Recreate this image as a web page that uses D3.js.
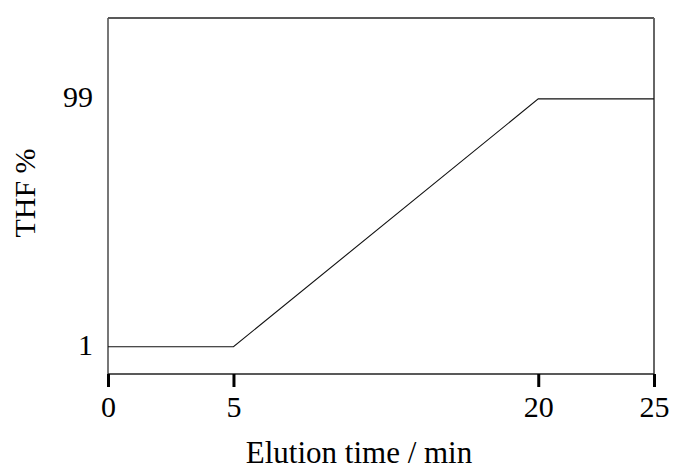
<!DOCTYPE html>
<html>
<head>
<meta charset="utf-8">
<script src="https://cdn.jsdelivr.net/npm/d3@7"></script>
<style>
  body { margin: 0; background: #fff; }
  text { font-family: "Liberation Serif", "Times New Roman", serif; fill: #000; }
</style>
</head>
<body>
<svg id="chart" width="676" height="471"></svg>
<script>
// gradient program: time (min) vs THF %
var times = [0, 5, 20, 25];
var thf = [1, 1, 99, 99];
var xTicks = [0, 5, 20, 25];
var yTicks = [1, 99];

var svg = d3.select('#chart');

var plotL = 108, plotR = 654, plotT = 18, plotB = 374;
var plotW = plotR - plotL;

// the original axis is drawn by hand, tick spacing is not even
var x = d3.scaleLinear()
  .domain(xTicks)
  .range([0, 0.2298, 0.788, 1].map(function (f) { return plotL + f * plotW; }));

var y = d3.scaleLinear()
  .domain([-9.8, 131])
  .range([plotB, plotT]);

// frame: top and right
svg.append('line')
  .attr('x1', plotL).attr('x2', plotR)
  .attr('y1', plotT).attr('y2', plotT)
  .attr('stroke', '#222').attr('stroke-width', 1.4);
svg.append('line')
  .attr('x1', plotR).attr('x2', plotR)
  .attr('y1', plotT).attr('y2', plotB)
  .attr('stroke', '#666').attr('stroke-width', 2);

// left axis, labels only (no tick marks)
svg.append('line')
  .attr('x1', plotL).attr('x2', plotL)
  .attr('y1', plotT).attr('y2', plotB)
  .attr('stroke', '#555').attr('stroke-width', 1.6);

svg.selectAll('.ylab')
  .data(yTicks)
  .enter().append('text')
  .attr('class', 'ylab')
  .attr('x', plotL - 15)
  .attr('y', function (d) { return y(d) + 8; })
  .attr('text-anchor', 'end')
  .style('font-size', '30px')
  .text(function (d) { return d; });

// bottom axis with thick ticks
var xAxis = svg.append('g')
  .attr('transform', 'translate(0,' + plotB + ')')
  .call(d3.axisBottom(x).tickValues(xTicks).tickSize(13).tickPadding(9).tickFormat(d3.format('d')));
xAxis.select('.domain')
  .attr('stroke', '#222').attr('stroke-width', 1.6)
  .attr('d', 'M' + plotL + ',0H' + plotR);
xAxis.selectAll('.tick line')
  .attr('stroke', '#000').attr('stroke-width', 3);
xAxis.selectAll('.tick text')
  .style('font-family', '"Liberation Serif", serif')
  .style('font-size', '30px')
  .attr('fill', '#000');

// gradient line
svg.append('path')
  .datum(times.map(function (t, i) { return [t, thf[i]]; }))
  .attr('fill', 'none')
  .attr('stroke', '#111')
  .attr('stroke-width', 1.1)
  .attr('d', d3.line()
    .x(function (d) { return x(d[0]); })
    .y(function (d) { return y(d[1]); }));

// axis titles
svg.append('text')
  .attr('x', 359).attr('y', 463)
  .attr('text-anchor', 'middle')
  .style('font-size', '31px')
  .text('Elution time / min');

svg.append('text')
  .attr('transform', 'translate(35,193) rotate(-90)')
  .attr('text-anchor', 'middle')
  .style('font-size', '30px')
  .text('THF %');
</script>
</body>
</html>
